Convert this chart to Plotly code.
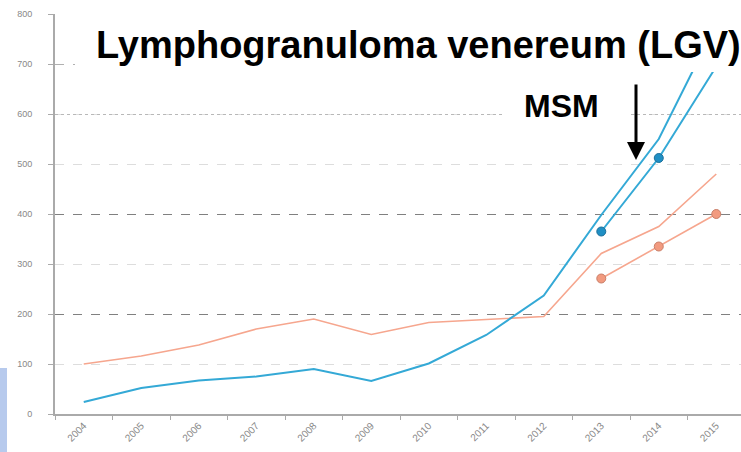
import plotly.graph_objects as go

# values
YEARS = [str(y) for y in range(2004, 2016)]
BLUE_ALL = [24, 52, 67, 75, 90, 66, 101, 158, 237, 398, 550, 780]
ORANGE_ALL = [100, 116, 138, 170, 190, 159, 183, 189, 195, 321, 375, 480]
SUB_YEARS = ['2013', '2014', '2015']
BLUE_SUB = [365, 512, 695]
ORANGE_SUB = [271, 335, 400]
Y_TICKS = [0, 100, 200, 300, 400, 500, 600, 700, 800]

W, H = 741, 452
L, R, T, B = 55, 0, 14, 38


def px(x):
    return (x - L) / (W - L - R)


def py(y):
    return (H - B - y) / (H - T - B)


BLUE = '#34a9d6'
ORANGE = '#f6a68e'

fig = go.Figure()
fig.add_trace(go.Scatter(x=YEARS, y=ORANGE_ALL, mode='lines',
                         line=dict(color=ORANGE, width=1.6)))
fig.add_trace(go.Scatter(x=YEARS, y=BLUE_ALL, mode='lines',
                         line=dict(color=BLUE, width=2)))
fig.add_trace(go.Scatter(x=SUB_YEARS, y=ORANGE_SUB, mode='lines+markers',
                         line=dict(color=ORANGE, width=1.6),
                         marker=dict(size=9, color='#f29a7f',
                                     line=dict(color='#c97f69', width=1))))
fig.add_trace(go.Scatter(x=SUB_YEARS, y=BLUE_SUB, mode='lines+markers',
                         line=dict(color=BLUE, width=2),
                         marker=dict(size=9, color='#1f8fc4',
                                     line=dict(color='#1c6f9a', width=1))))
# empty traces so the extra grid axes get drawn
for ax in ['y2', 'y3', 'y4']:
    fig.add_trace(go.Scatter(x=[], y=[], yaxis=ax, hoverinfo='skip'))

overlay = dict(overlaying='y', anchor='x', range=[0, 800], showticklabels=False,
               showline=False, ticks='', zeroline=False, showgrid=True,
               gridwidth=1)

fig.update_layout(
    width=W, height=H,
    margin=dict(l=L, r=R, t=T, b=B, autoexpand=False),
    paper_bgcolor='white', plot_bgcolor='white',
    showlegend=False,
    font=dict(family='Liberation Sans, Arial, sans-serif'),
    xaxis=dict(type='category', range=[-0.5, 11.43], showgrid=False,
               showline=True, linecolor='#aaaaaa', linewidth=2,
               ticks='outside', tickson='boundaries', ticklen=4,
               tickcolor='#aaaaaa', tickangle=-45,
               tickfont=dict(size=10, color='#888888')),
    yaxis=dict(range=[0, 800], tickvals=Y_TICKS, showline=True,
               linecolor='#aaaaaa', linewidth=2, ticks='outside', ticklen=5,
               tickcolor='#aaaaaa', ticklabelstandoff=14, zeroline=False,
               tickfont=dict(size=9, color='#888888'),
               gridcolor='#dddddd', griddash='dash', gridwidth=1),
    yaxis2=dict(tickvals=[200, 400], gridcolor='#808080', griddash='dash', **overlay),
    yaxis3=dict(tickvals=[600], gridcolor='#b8b8b8', griddash='dot', **overlay),
    yaxis4=dict(tickvals=[700, 800], gridcolor='#b0b0b0', griddash='dash', **overlay),
)

# white boxes behind the labels
fig.add_shape(type='rect', xref='paper', yref='paper', layer='above',
              x0=px(75), x1=1.01, y0=py(72), y1=py(0),
              fillcolor='white', line=dict(width=0))
fig.add_shape(type='rect', xref='paper', yref='paper', layer='above',
              x0=px(505), x1=px(630), y0=py(125), y1=py(92),
              fillcolor='white', line=dict(width=0))
# blue slide edge at bottom left
fig.add_shape(type='rect', xref='paper', yref='paper', layer='above',
              x0=px(-2), x1=px(7), y0=py(453), y1=py(368),
              fillcolor='#b7caed', line=dict(width=0))

fig.add_annotation(text='<b>Lymphogranuloma venereum (LGV)</b>',
                   xref='paper', yref='paper', x=px(418), y=py(45),
                   xanchor='center', yanchor='middle', showarrow=False,
                   font=dict(size=38, color='black',
                             family='Liberation Sans, Arial, sans-serif'))
fig.add_annotation(text='<b>MSM</b>', xref='paper', yref='paper',
                   x=px(561), y=py(106), xanchor='center', yanchor='middle',
                   showarrow=False,
                   font=dict(size=32, color='black',
                             family='Liberation Sans, Arial, sans-serif'))
fig.add_annotation(text='', xref='paper', yref='paper', x=px(636), y=py(160),
                   ax=0, ay=-77, showarrow=True, arrowhead=2, arrowsize=1.2,
                   arrowwidth=3, arrowcolor='black')

# the page's default body margin would shift the chart
fig.write_html('out.html', config={'displayModeBar': False},
               post_script="document.body.style.margin='0';")
